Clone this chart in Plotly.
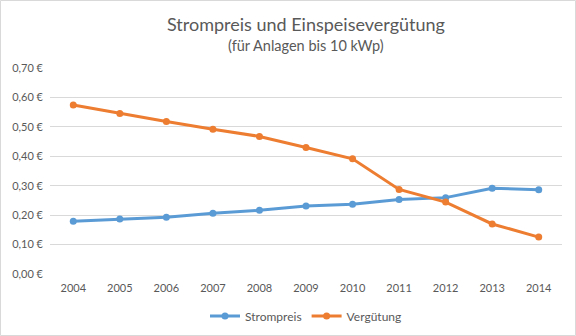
import plotly.graph_objects as go

years = ["2004", "2005", "2006", "2007", "2008", "2009", "2010", "2011", "2012", "2013", "2014"]
strompreis = [0.1796, 0.1866, 0.1932, 0.2064, 0.2165, 0.2311, 0.2369, 0.2530, 0.2595, 0.2916, 0.2860]
verguetung = [0.5743, 0.5453, 0.5180, 0.4921, 0.4675, 0.4301, 0.3914, 0.2874, 0.2443, 0.1700, 0.1254]
y_ticks = [0.0, 0.1, 0.2, 0.3, 0.4, 0.5, 0.6, 0.7]
y_tick_labels = ["0,00 €", "0,10 €", "0,20 €", "0,30 €", "0,40 €", "0,50 €", "0,60 €", "0,70 €"]
title_text = "Strompreis und Einspeisevergütung"
subtitle_text = "(für Anlagen bis 10 kWp)"

FONT = "Lato"
GRAY = "#595959"
L, R, T, B = 50, 14, 68, 62
PW, PH = 576 - L - R, 336 - T - B

fig = go.Figure()
fig.add_trace(go.Scatter(x=years, y=strompreis, name="Strompreis", mode="lines+markers",
                         line=dict(color="#5B9BD5", width=3), marker=dict(size=7, color="#5B9BD5")))
fig.add_trace(go.Scatter(x=years, y=verguetung, name="Vergütung", mode="lines+markers",
                         line=dict(color="#ED7D31", width=3), marker=dict(size=7, color="#ED7D31")))

fig.update_layout(
    width=576, height=336,
    margin=dict(l=L, r=R, t=T, b=B, autoexpand=False),
    paper_bgcolor="white", plot_bgcolor="white",
    font=dict(family=FONT, color=GRAY, size=11),
    showlegend=True,
    legend=dict(orientation="h", x=0.5, xanchor="center", yref="container",
                y=(336 - 316) / 336, yanchor="middle",
                font=dict(family=FONT, size=12, color=GRAY), itemwidth=30, traceorder="normal"),
    xaxis=dict(type="category", range=[-0.5, 10.5], showgrid=False, showline=False,
               ticks="", tickfont=dict(size=11, color=GRAY), zeroline=False,
               ticklabelstandoff=6),
    yaxis=dict(range=[0, 0.7], tickvals=y_ticks, ticktext=y_tick_labels, showgrid=True,
               gridcolor="#D9D9D9", gridwidth=1, zeroline=False, showline=False, ticks="",
               tickfont=dict(size=11, color=GRAY), ticklabelstandoff=6),
    annotations=[
        dict(text=title_text, xref="paper", yref="paper", x=0.5, y=1 + (T - 24) / PH,
             xanchor="center", yanchor="middle", showarrow=False,
             font=dict(family=FONT, size=18, color=GRAY)),
        dict(text=subtitle_text, xref="paper", yref="paper", x=0.5, y=1 + (T - 45) / PH,
             xanchor="center", yanchor="middle", showarrow=False,
             font=dict(family=FONT, size=14.5, color=GRAY)),
    ],
    shapes=[dict(type="rect", xref="paper", yref="paper", x0=-(L - 0.5) / PW, x1=1 + (R - 0.5) / PW,
                 y0=-(B - 0.5) / PH, y1=1 + (T - 0.5) / PH, line=dict(color="#D9D9D9", width=1))],
)

fig.write_html("out.html")
